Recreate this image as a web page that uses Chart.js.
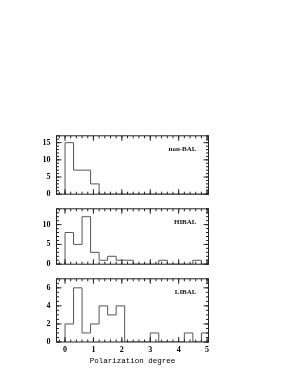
<!DOCTYPE html>
<html>
<head>
<meta charset="utf-8">
<script src="https://cdn.jsdelivr.net/npm/chart.js@4.4.1/dist/chart.umd.min.js"></script>
<style>
  html, body { margin: 0; padding: 0; background: #fff; }
  #wrap { position: relative; width: 295px; height: 382px; }
  .panel { position: absolute; left: 0; width: 295px; }
</style>
</head>
<body>
<div id="wrap">
  <div class="panel" style="top:125px;height:80px"><canvas id="c1"></canvas></div>
  <div class="panel" style="top:198px;height:77px"><canvas id="c2"></canvas></div>
  <div class="panel" style="top:268px;height:114px"><canvas id="c3"></canvas></div>
</div>
<script>
// lower edges of the 0.3-wide polarization bins
const BIN_EDGES = [0, 0.3, 0.6, 0.9, 1.2, 1.5, 1.8, 2.1, 2.4, 2.7, 3.0, 3.3, 3.6, 3.9, 4.2, 4.5, 4.8]
const BIN_WIDTH = 0.3

const NON_BAL = [15, 7, 7, 3, 0, 0, 0, 0, 0, 0, 0, 0, 0, 0, 0, 0, 0]
const HIBAL   = [8, 5, 12, 3, 1, 2, 1, 1, 0, 0, 0, 1, 0, 0, 0, 1, 0]
const LIBAL   = [2, 6, 1, 2, 4, 3, 4, 0, 0, 0, 1, 0, 0, 0, 1, 0, 1]

const X_TICKS = [0, 1, 2, 3, 4, 5]
const Y_TICKS_NONBAL = [0, 5, 10, 15]
const Y_TICKS_HIBAL = [0, 5, 10]
const Y_TICKS_LIBAL = [0, 2, 4, 6]

const X_MIN = -0.3, X_MAX = 5.05

const tickFont = { family: 'Liberation Serif', size: 8, weight: 'bold' }

// histogram outline as a stepped line
function stepPoints(counts) {
  const pts = [{ x: BIN_EDGES[0], y: 0 }]
  counts.forEach((c, i) => pts.push({ x: BIN_EDGES[i], y: c }))
  pts.push({ x: BIN_EDGES[BIN_EDGES.length - 1] + BIN_WIDTH, y: 0 })
  return pts
}

// box frame with inward ticks on all sides + panel label
const framePlugin = {
  id: 'frame',
  afterDatasetsDraw(chart, args, o) {
    const { ctx, chartArea: a, scales: { x, y } } = chart
    ctx.save()
    ctx.strokeStyle = '#222'
    ctx.lineWidth = 1
    ctx.strokeRect(a.left, a.top, a.width, a.height)
    ctx.beginPath()
    const xt = (step, len) => {
      for (let v = Math.ceil(x.min / step) * step; v <= x.max + 1e-9; v += step) {
        const p = x.getPixelForValue(v)
        ctx.moveTo(p, a.bottom); ctx.lineTo(p, a.bottom - len)
        ctx.moveTo(p, a.top); ctx.lineTo(p, a.top + len)
      }
    }
    const yt = (step, len) => {
      for (let v = 0; v <= y.max + 1e-9; v += step) {
        const p = y.getPixelForValue(v)
        ctx.moveTo(a.left, p); ctx.lineTo(a.left + len, p)
        ctx.moveTo(a.right, p); ctx.lineTo(a.right - len, p)
      }
    }
    xt(0.2, 2.5); xt(1, 5)
    yt(o.yMinor, 2.5); yt(o.yMajor, 5)
    ctx.stroke()
    ctx.fillStyle = '#111'
    ctx.font = 'bold 7px "Liberation Serif"'
    ctx.textAlign = 'right'
    ctx.textBaseline = 'middle'
    ctx.fillText(o.label, a.right - 12, a.top + 13)
    ctx.restore()
  }
}

function makePanel(id, counts, yMax, yTicks, yMajor, yMinor, label, bottom) {
  return new Chart(document.getElementById(id), {
    type: 'line',
    data: {
      datasets: [{
        data: stepPoints(counts),
        stepped: 'before',
        borderColor: '#555',
        borderWidth: 1,
        pointRadius: 0,
        fill: false,
      }]
    },
    options: {
      responsive: true,
      maintainAspectRatio: false,
      animation: false,
      layout: { padding: { top: bottom ? 9 : (id === 'c1' ? 10 : 7), right: 86.5, bottom: bottom ? 0 : (id === 'c1' ? 7 : 5), left: 0 } },
      plugins: {
        legend: { display: false },
        tooltip: { enabled: false },
        frame: { label, yMajor, yMinor },
      },
      scales: {
        x: {
          type: 'linear',
          min: X_MIN,
          max: X_MAX,
          grid: { display: false, drawTicks: false },
          border: { display: false },
          afterBuildTicks: s => { s.ticks = X_TICKS.map(v => ({ value: v })) },
          ticks: { display: bottom, font: tickFont, color: '#000', padding: 3, maxRotation: 0, autoSkip: false },
          title: {
            display: bottom,
            text: 'Polarization degree',
            font: { family: 'Liberation Mono', size: 7.5 },
            color: '#000',
            padding: { top: 0, bottom: 16 },
          },
          afterFit: s => { s.height = bottom ? 40 : 0 },
        },
        y: {
          min: 0,
          max: yMax,
          grid: { display: false, drawTicks: false },
          border: { display: false },
          afterBuildTicks: s => { s.ticks = yTicks.map(v => ({ value: v })) },
          ticks: { font: tickFont, color: '#000', padding: 6, autoSkip: false },
          afterFit: s => { s.width = 56.5 },
        }
      }
    },
    plugins: [framePlugin]
  })
}

makePanel('c1', NON_BAL, 17, Y_TICKS_NONBAL, 5, 1, 'non-BAL', false)
makePanel('c2', HIBAL, 14, Y_TICKS_HIBAL, 5, 1, 'HIBAL', false)
makePanel('c3', LIBAL, 7, Y_TICKS_LIBAL, 2, 0.5, 'LIBAL', true)
</script>
</body>
</html>
